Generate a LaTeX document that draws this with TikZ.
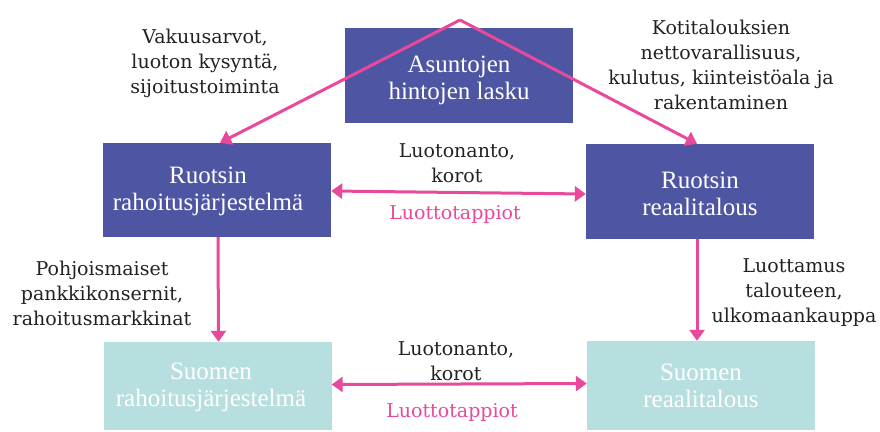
\documentclass[tikz,border=0pt]{standalone}
\usepackage{fontspec}
\setmainfont{Liberation Serif}
\newfontfamily\lblfont{DejaVu Serif}
\usetikzlibrary{arrows.meta}
\definecolor{darkbox}{HTML}{4E55A3}
\definecolor{lightbox}{HTML}{B8DFE0}
\definecolor{pinkc}{HTML}{E8499A}
\definecolor{txtc}{HTML}{222222}
\tikzset{
  dbox/.style={rectangle, fill=darkbox, text=white, minimum width=228pt, minimum height=94pt, align=center, inner sep=0pt, font=\fontsize{25}{27}\selectfont},
  lbox/.style={dbox, fill=lightbox},
  btxt/.style={align=center, text=white, inner sep=0pt, font=\fontsize{25}{27}\selectfont},
  lbl/.style={align=center, text=txtc, inner sep=0pt, font=\lblfont\fontsize{19}{25}\selectfont},
  plbl/.style={lbl, text=pinkc},
  conn/.style={draw=pinkc, line width=3pt, -{Triangle[width=15pt,length=11pt]}},
  dconn/.style={conn, {Triangle[width=15pt,length=11pt]}-{Triangle[width=15pt,length=11pt]}}
}
\begin{document}
\begin{tikzpicture}[x=1pt,y=-1pt]
\useasboundingbox (0,0) rectangle (880,431);
\node[dbox, minimum height=95pt] (top) at (459,75.5) {};
\node[btxt] (topt) at (459,80) {Asuntojen\\hintojen lasku};
\node[dbox] (rsf) at (217,190) {};
\node[btxt] (rsft) at (208,191) {Ruotsin\\rahoitusjärjestelmä};
\node[dbox, minimum height=95pt] (rre) at (700,191.5) {};
\node[btxt] (rret) at (700,194) {Ruotsin\\reaalitalous};
\node[lbox, minimum height=88pt] (fsf) at (217.5,386) {};
\node[btxt] (fsft) at (211,387) {Suomen\\rahoitusjärjestelmä};
\node[lbox, minimum height=89pt] (fre) at (701,385.5) {Suomen\\reaalitalous};
\coordinate (apex) at (460,20);
\draw[conn, line join=miter] (apex) -- ([xshift=3pt]rsf.north);
\draw[conn] (apex) -- ([xshift=-3pt]rre.north);
\draw[dconn] ([yshift=-1pt]rsf.east) -- ([yshift=-2.5pt]rre.west);
\draw[dconn] ([yshift=1.5pt]fsf.east) -- ([yshift=2pt]fre.west);
\draw[conn] ([xshift=1pt]rsf.south) -- ([xshift=1pt]fsf.north);
\draw[conn] ([xshift=-3pt]rre.south) -- ([xshift=-4pt]fre.north);
\node[lbl] (l1) at (205,63.5) {Vakuusarvot,\\luoton kysyntä,\\sijoitustoiminta};
\node[lbl] (l2) at (721,65) {Kotitalouksien\\nettovarallisuus,\\kulutus, kiinteistöala ja\\rakentaminen};
\node[lbl] (l3) at (457,163) {Luotonanto,\\korot};
\node[plbl] (l4) at (455,214) {Luottotappiot};
\node[lbl] (l5) at (102,293.5) {Pohjoismaiset\\pankkikonsernit,\\rahoitusmarkkinat};
\node[lbl] (l6) at (794,293) {Luottamus\\talouteen,\\ulkomaankauppa};
\node[lbl] (l7) at (456,361) {Luotonanto,\\korot};
\node[plbl] (l8) at (452,412) {Luottotappiot};
\end{tikzpicture}
\end{document}
